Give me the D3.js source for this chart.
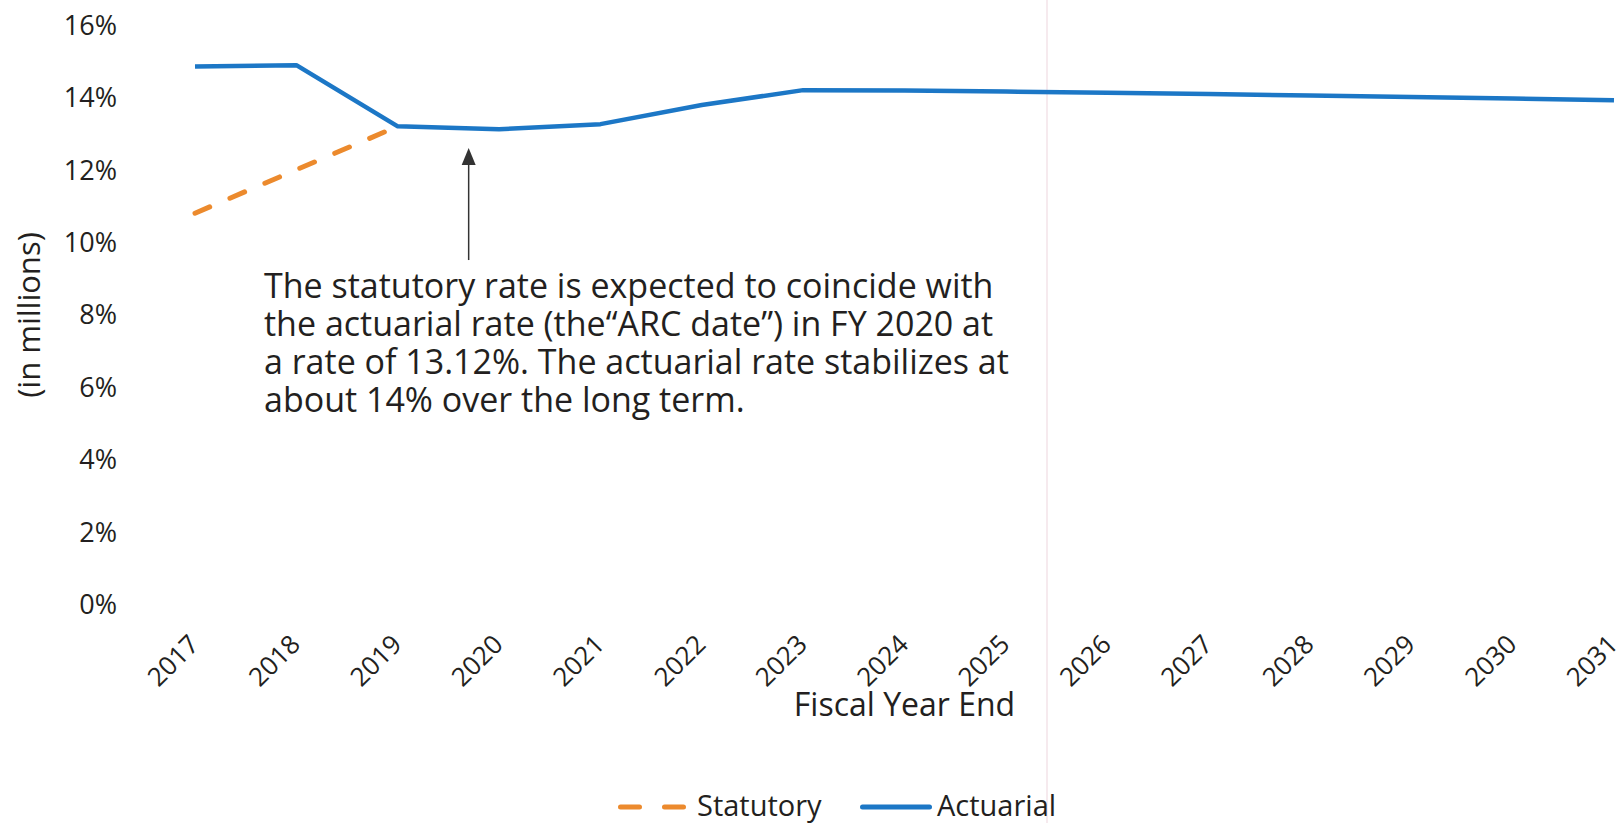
<!DOCTYPE html>
<html>
<head>
<meta charset="utf-8">
<script src="https://cdn.jsdelivr.net/npm/d3@7"></script>
<style>
  body { margin: 0; background: #fff; }
  svg text { font-family: "Open Sans", sans-serif; fill: #231f20; }
</style>
</head>
<body>
<div class="chart"></div>
<script>
// data
var years = [2017, 2018, 2019, 2020, 2021, 2022, 2023, 2024, 2025, 2026, 2027, 2028, 2029, 2030, 2031];
var yTicks = [0, 2, 4, 6, 8, 10, 12, 14, 16];
var statutoryYears = [2017, 2018, 2019];
var statutory = [10.8, 12.0, 13.2];
var actuarial = [14.85, 14.89, 13.2, 13.12, 13.26, 13.79, 14.2, 14.19, 14.16, 14.13, 14.09, 14.05, 14.01, 13.97, 13.92];
var seriesNames = ["Statutory", "Actuarial"];
var annotationLines = [
  "The statutory rate is expected to coincide with",
  "the actuarial rate (the\u201CARC date\u201D) in FY 2020 at",
  "a rate of 13.12%. The actuarial rate stabilizes at",
  "about 14% over the long term."
];
// where the arrow sits (year, tip value)
var arrowYear = 2019.7;
var arrowTip = 12.6;

var svgWidth = 1619;
var svgHeight = 823;

var margin = {top: 25, right: 5, bottom: 219, left: 195};
var width = svgWidth - margin.left - margin.right;
var height = svgHeight - margin.top - margin.bottom;

var orange = "#ec8a2d";
var blue = "#1c77c6";

var svg = d3.select(".chart")
  .append("svg")
  .attr("width", svgWidth)
  .attr("height", svgHeight);

// faint fold line from the scanned page
svg.append("line")
  .attr("x1", 1047).attr("x2", 1047)
  .attr("y1", 0).attr("y2", svgHeight)
  .attr("stroke", "#f3e3e8")
  .attr("stroke-width", 1.5);

var chartGroup = svg.append("g")
  .attr("transform", `translate(${margin.left}, ${margin.top})`);

var xScale = d3.scaleLinear()
  .domain([d3.min(years), d3.max(years)])
  .range([0, width]);

var yScale = d3.scaleLinear()
  .domain([0, 16])
  .range([height, 0]);

// y axis
var leftAxis = d3.axisLeft(yScale)
  .tickValues(yTicks)
  .tickFormat(d => d + "%")
  .tickSize(0)
  .tickPadding(78);

var yAxis = chartGroup.append("g").call(leftAxis);
yAxis.select(".domain").remove();
yAxis.selectAll("text")
  .style("font-size", "27px")
  .attr("dy", "0.35em");

// x axis
var bottomAxis = d3.axisBottom(xScale)
  .tickValues(years)
  .tickFormat(d3.format("d"))
  .tickSize(0);

var xAxis = chartGroup.append("g")
  .attr("transform", `translate(0, ${height})`)
  .call(bottomAxis);
xAxis.select(".domain").remove();
xAxis.selectAll("text")
  .style("font-size", "26px")
  .style("text-anchor", "end")
  .attr("x", 0)
  .attr("y", 0)
  .attr("dy", 0)
  .attr("transform", "translate(5, 42) rotate(-45)");

// axis titles
chartGroup.append("text")
  .attr("x", width / 2)
  .attr("y", height + 112)
  .attr("text-anchor", "middle")
  .style("font-size", "32px")
  .text("Fiscal Year End");

svg.append("text")
  .attr("transform", "translate(40, 315) rotate(-90)")
  .attr("text-anchor", "middle")
  .style("font-size", "31px")
  .text("(in millions)");

// lines
var statutoryLine = d3.line()
  .x((d, i) => xScale(statutoryYears[i]))
  .y(d => yScale(d));

var actuarialLine = d3.line()
  .x((d, i) => xScale(years[i]))
  .y(d => yScale(d));

chartGroup.append("path")
  .datum(statutory)
  .attr("d", statutoryLine)
  .attr("fill", "none")
  .attr("stroke", orange)
  .attr("stroke-width", 5)
  .attr("stroke-linecap", "round")
  .attr("stroke-dasharray", "16,22");

chartGroup.append("path")
  .datum(actuarial)
  .attr("d", actuarialLine)
  .attr("fill", "none")
  .attr("stroke", blue)
  .attr("stroke-width", 4.5)
  .attr("stroke-linejoin", "round");

// annotation arrow
var ax = xScale(arrowYear);
var tipY = yScale(arrowTip);
chartGroup.append("line")
  .attr("x1", ax).attr("x2", ax)
  .attr("y1", tipY + 14).attr("y2", tipY + 112)
  .attr("stroke", "#333")
  .attr("stroke-width", 1.5);

chartGroup.append("path")
  .attr("d", `M${ax},${tipY} L${ax - 7},${tipY + 17} L${ax + 7},${tipY + 17} Z`)
  .attr("fill", "#333");

var note = svg.append("text")
  .style("font-size", "34px");

note.selectAll("tspan")
  .data(annotationLines)
  .enter()
  .append("tspan")
  .attr("x", 264)
  .attr("y", (d, i) => 298 + i * 38)
  .text(d => d);

// legend
var legend = svg.append("g");

legend.append("line")
  .attr("x1", 620.5).attr("x2", 683.5)
  .attr("y1", 807).attr("y2", 807)
  .attr("stroke", orange)
  .attr("stroke-width", 5)
  .attr("stroke-linecap", "round")
  .attr("stroke-dasharray", "19,25");

legend.append("text")
  .attr("x", 697)
  .attr("y", 816)
  .style("font-size", "29px")
  .text(seriesNames[0]);

legend.append("line")
  .attr("x1", 862.5).attr("x2", 929.5)
  .attr("y1", 807).attr("y2", 807)
  .attr("stroke", blue)
  .attr("stroke-width", 5)
  .attr("stroke-linecap", "round");

legend.append("text")
  .attr("x", 937)
  .attr("y", 816)
  .style("font-size", "29px")
  .text(seriesNames[1]);
</script>
</body>
</html>
